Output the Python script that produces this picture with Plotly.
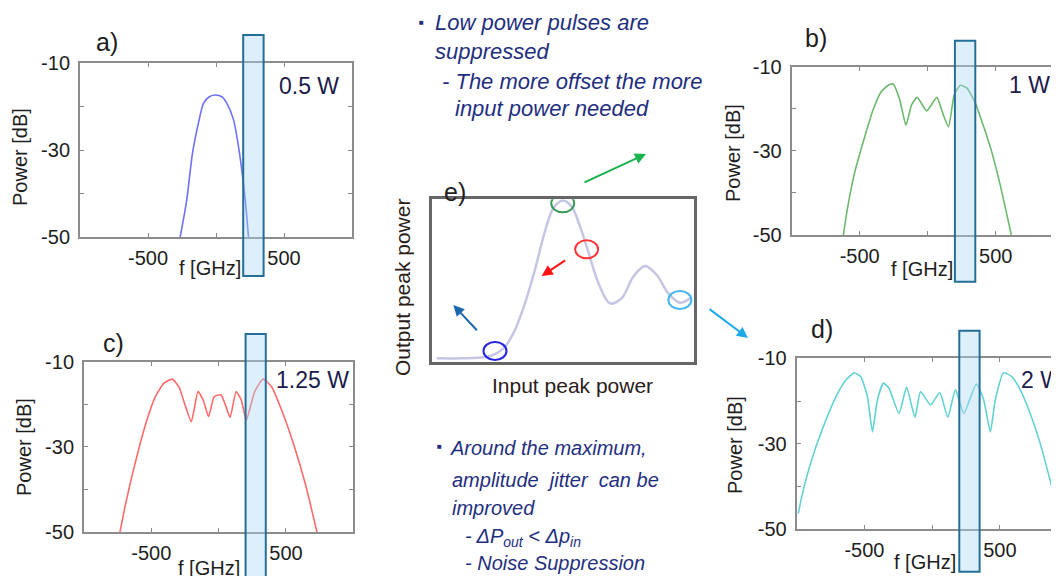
import plotly.graph_objects as go

W, H = 1059, 576
OFF = 8  # the page body adds an 8 px margin at the top left

# spectra (frequency in GHz, power in dB)
a_f = [-264, -215, -173, -124, -92, -55, -6, 43, 80, 129, 173, 215, 239]
a_db = [-50, -41.4, -30.7, -23.0, -19.2, -17.8, -17.3, -17.7, -19.2, -23.0, -30.7, -41.4, -50]

b_f = [-620, -588, -538, -477, -402, -341, -291, -254, -205, -160, -119, -77, -7, 67, 111, 153,
       195, 240, 289, 351, 412, 474, 536, 615]
b_db = [-50, -43.3, -35.3, -28.2, -20.3, -15.9, -14.4, -14.1, -17.9, -23.9, -19.1, -17.3, -20.5,
        -17.3, -21.1, -24.3, -16.7, -14.4, -15.1, -18.7, -24.3, -30.6, -38.5, -50]

c_f = [-733, -695, -645, -595, -533, -470, -408, -345, -295, -245, -203, -153, -115, -75, -33, 18,
       55, 85, 130, 168, 205, 268, 330, 393, 468, 555, 643, 730]
c_db = [-50, -44, -37, -30.7, -23.7, -18.2, -15.1, -14.1, -15.9, -20.6, -24.1, -17.0, -19.0, -22.9,
        -18.2, -17.8, -20.6, -23.1, -17.0, -19.0, -23.7, -17.0, -14.1, -15.9, -21.4, -29.2, -38.6, -50]

d_f = [-988, -968, -919, -858, -784, -711, -637, -576, -527, -478, -441, -404, -360, -319, -245,
       -189, -127, -86, -12, 56, 115, 172, 233, 326, 380, 429, 466, 527, 588, 650, 723, 797, 870, 931]
d_db = [-46.3, -43.1, -36.9, -30.7, -24.4, -19.0, -15.1, -13.4, -14.3, -19.0, -27.2, -19.7, -15.8,
        -17.0, -22.9, -16.8, -23.8, -17.8, -20.9, -18.0, -23.8, -17.3, -22.9, -16.0, -19.7, -27.2,
        -19.7, -13.4, -14.3, -17.4, -22.9, -29.9, -38.5, -46.3]

# transfer curve of panel e (normalised input / output peak power)
e_in = [0.019, 0.121, 0.197, 0.241, 0.279, 0.317, 0.355, 0.393, 0.431, 0.463, 0.499, 0.533, 0.565,
        0.596, 0.635, 0.679, 0.723, 0.768, 0.812, 0.857, 0.901, 0.945, 0.984]
e_out = [0.021, 0.021, 0.027, 0.047, 0.092, 0.195, 0.359, 0.565, 0.801, 0.945, 0.992, 0.955, 0.832,
         0.678, 0.483, 0.359, 0.390, 0.524, 0.589, 0.534, 0.421, 0.363, 0.390]
mark_in = [0.241, 0.499, 0.590, 0.945]
mark_out = [0.066, 0.975, 0.692, 0.380]
mark_col = ['#2323e0', '#3a9a5a', '#ff3535', '#45b8ef']

ytick_vals = [-50, -40, -30, -20, -10]
ytick_text = ['-50', '', '-30', '', '-10']
xtick_vals = [-500, 0, 500]
xtick_text = ['-500', '', '500']

FONT = 'Liberation Sans, Arial, sans-serif'
TXT = '#1e1e1e'
NAVY = '#1f2f80'


def px(x):
    return (x - OFF) / W


def py(y):
    return 1 - (y - OFF) / H


fig = go.Figure()
panels = [
    ('x', 'y', a_f, a_db, '#7070f8', 0.8),
    ('x2', 'y2', b_f, b_db, '#6cb86c', 0.5),
    ('x3', 'y3', c_f, c_db, '#ff6a6a', 0.5),
    ('x4', 'y4', d_f, d_db, '#62d2d2', 0.5),
]
for xa, ya, f, db, col, sm in panels:
    fig.add_trace(go.Scatter(x=f, y=db, xaxis=xa, yaxis=ya, mode='lines',
                             line=dict(color=col, width=1.6, shape='spline', smoothing=sm),
                             hoverinfo='skip', showlegend=False))

fig.add_trace(go.Scatter(x=e_in, y=e_out, xaxis='x5', yaxis='y5', mode='lines',
                         line=dict(color='#c6c6e4', width=2.5, shape='spline', smoothing=0.9),
                         hoverinfo='skip', showlegend=False))


def xax(dom, rng, anchor):
    return dict(domain=dom, range=rng, anchor=anchor, tickvals=xtick_vals, ticktext=xtick_text,
                ticks='inside', ticklen=4, tickcolor='#888', showline=True, linecolor='#8c8c8c',
                linewidth=2, mirror='ticks', showgrid=False, zeroline=False, automargin=False,
                tickfont=dict(family=FONT, size=20, color=TXT), ticklabelstandoff=2)


def yax(dom, anchor):
    return dict(domain=dom, range=[-50, -10], anchor=anchor, tickvals=ytick_vals,
                ticktext=ytick_text, ticks='inside', ticklen=4, tickcolor='#888', showline=True,
                linecolor='#8c8c8c', linewidth=2, mirror='ticks',
                showgrid=False, zeroline=False, automargin=False,
                tickfont=dict(family=FONT, size=20, color=TXT), ticklabelstandoff=4)


frame_e = dict(range=[0, 1], showline=True, linecolor='#666', linewidth=3, mirror=True,
               showticklabels=False, ticks='', showgrid=False, zeroline=False, automargin=False)

fig.update_layout(
    width=W, height=H, margin=dict(l=0, r=0, t=0, b=0, autoexpand=False),
    paper_bgcolor='white', plot_bgcolor='white', showlegend=False,
    xaxis=xax([px(80), px(352)], [-1000, 1000], 'y'),
    yaxis=yax([py(237.3), py(63.3)], 'x'),
    xaxis2=xax([px(791.7), px(1063.7)], [-1000, 1000], 'y2'),
    yaxis2=yax([py(235), py(66.7)], 'x2'),
    xaxis3=xax([px(84), px(353.3)], [-1000, 1000], 'y3'),
    yaxis3=yax([py(532), py(361.7)], 'x3'),
    xaxis4=xax([px(796.7), 1.0], [-1000, 995], 'y4'),
    yaxis4=yax([py(529.3), py(358.3)], 'x4'),
    xaxis5=dict(domain=[px(431.7), px(694.3)], anchor='y5', **frame_e),
    yaxis5=dict(domain=[py(361.7), py(199.3)], anchor='x5', **frame_e),
)

# highlighted filter window in every spectrum
for xa, top, bot in [('x', 35, 276), ('x2', 40.7, 281.7), ('x3', 334, 580), ('x4', 330.7, 571.7)]:
    fig.add_shape(type='rect', xref=xa, yref='paper', x0=200, x1=350, y0=py(bot), y1=py(top),
                  fillcolor='rgba(170,215,245,0.40)', line=dict(color='#246f98', width=2),
                  layer='above')

# circles marking the operating points on the transfer curve
for xi, yi, col in zip(mark_in, mark_out, mark_col):
    fig.add_shape(type='circle', xref='x5', yref='y5', xsizemode='pixel', ysizemode='pixel',
                  xanchor=xi, yanchor=yi, x0=-11.5, x1=11.5, y0=-9, y1=9,
                  line=dict(color=col, width=2), layer='above')

ann = []


def label(text, x, y, size, color=TXT, xanchor='center', angle=0, italic=False):
    ann.append(dict(text=text, x=px(x), y=py(y), xref='paper', yref='paper', showarrow=False,
                    xanchor=xanchor, yanchor='middle', textangle=angle,
                    font=dict(family=FONT, size=size, color=color,
                              style='italic' if italic else 'normal')))


# panel letters
label('a)', 107, 42, 25)
label('b)', 816, 38, 25)
label('c)', 113, 343, 25)
label('d)', 822, 329, 25)
label('e)', 455, 192, 25)

# power labels
label('0.5 W', 309, 86, 23, '#1c1c4c')
label('1 W', 1007, 85, 23, '#1c1c4c', xanchor='left')
label('1.25 W', 312, 380, 23, '#1c1c4c')
label('2 W', 1019, 380, 23, '#1c1c4c', xanchor='left')

# axis titles
for x, y in [(20, 157), (733, 153), (24, 447), (735, 445)]:
    label('Power [dB]', x, y, 20, angle=-90)
for x, y in [(210, 268), (922, 269), (209, 568), (925, 562)]:
    label('f [GHz]', x, y, 20)
label('Output peak power', 402, 288, 21, '#2a2018', angle=-90)
label('Input peak power', 572, 385, 21, '#2a2018')

# bullet text
label('■', 421, 22, 8, NAVY)
label('Low power pulses are', 433, 23, 22, NAVY, 'left', italic=True)
label('suppressed', 433, 51, 22, NAVY, 'left', italic=True)
label('- The more offset the more', 440, 81, 22, NAVY, 'left', italic=True)
label('input power needed', 453, 108, 22, NAVY, 'left', italic=True)

label('■', 439, 446, 8, NAVY)
label('Around the maximum,', 448, 448, 20, NAVY, 'left', italic=True)
label('amplitude  jitter  can be', 450, 480, 20, NAVY, 'left', italic=True)
label('improved', 450, 508, 20, NAVY, 'left', italic=True)
label('- ΔP<sub>out</sub> &lt; Δp<sub>in</sub>', 463, 537, 20, NAVY, 'left', italic=True)
label('- Noise Suppression', 463, 563, 20, NAVY, 'left', italic=True)

# arrows pointing from the operating points to the spectra
for hx, hy, tx, ty, col in [(646, 154, 583, 183, '#19b24f'), (541.7, 276, 566.7, 259.3, '#ff1414'),
                            (453.3, 305, 478.3, 331.7, '#1b68b0'), (748, 338, 708, 308, '#1ea9e8')]:
    ann.append(dict(x=px(hx), y=py(hy), xref='paper', yref='paper', ax=tx - hx, ay=ty - hy,
                    axref='pixel', ayref='pixel', showarrow=True, arrowhead=2, arrowsize=1.1,
                    arrowwidth=2, arrowcolor=col, text=''))

fig.update_layout(annotations=ann)

fig.write_html('out.html')
